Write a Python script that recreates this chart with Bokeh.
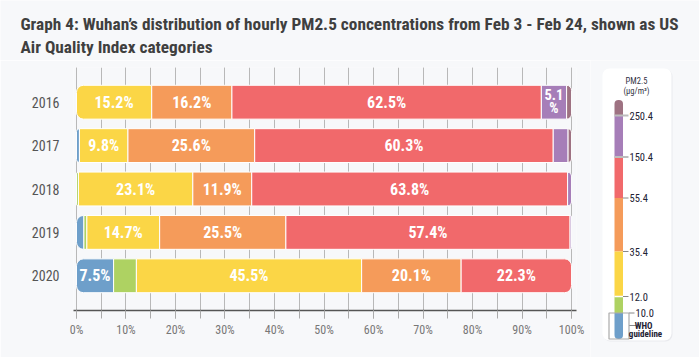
from bokeh.plotting import figure
from bokeh.models import ColumnDataSource, FactorRange, Range1d, SingleIntervalTicker
from bokeh.layouts import column, row
from bokeh.embed import file_html
from bokeh.resources import INLINE
from bokeh.core.properties import value

# ---------------- data ----------------
years = ["2016", "2017", "2018", "2019", "2020"]
categories = ["0-10 (WHO guideline)", "10-12", "12-35.4", "35.4-55.4",
              "55.4-150.4", "150.4-250.4", ">250.4"]
blue = [0.0, 0.6, 0.0, 1.5, 7.5]
green = [0.0, 0.0, 0.4, 0.6, 4.6]
yellow = [15.2, 9.8, 23.1, 14.7, 45.5]
orange = [16.2, 25.6, 11.9, 25.5, 20.1]
red = [62.5, 60.3, 63.8, 57.4, 22.3]
purple = [5.1, 3.0, 0.8, 0.3, 0.0]
brown = [1.0, 0.7, 0.0, 0.0, 0.0]
x_ticks = [0, 10, 20, 30, 40, 50, 60, 70, 80, 90, 100]
x_tick_labels = ["0%", "10%", "20%", "30%", "40%", "50%", "60%", "70%", "80%", "90%", "100%"]
legend_breaks = ["250.4", "150.4", "55.4", "35.4", "12.0", "10.0"]
title_lines = ["Graph 4: Wuhan\u2019s distribution of hourly PM2.5 concentrations from Feb 3 - Feb 24, shown as US",
               "Air Quality Index categories"]

# ---------------- style ----------------
colors = ["#6E9FCA", "#AED262", "#FBD646", "#F59B5A", "#F1696B", "#A67EB8", "#9E7282"]
BG = "#F7F8FA"
COND = "'Roboto Condensed', 'Liberation Sans Narrow', 'DejaVu Sans Condensed', Roboto"
series = [blue, green, yellow, orange, red, purple, brown]
TH = 60  # title strip height

# ---------------- title figure ----------------
tf = figure(width=699, height=TH, x_range=Range1d(0, 699), y_range=Range1d(0, TH),
            x_axis_type=None, y_axis_type=None, output_backend="svg", toolbar_location=None,
            min_border=0, background_fill_color=BG, border_fill_color=BG, outline_line_color=None)
tf.frame_align = False
tf.text(x=[20, 20], y=[TH - 23, TH - 46], text=title_lines, text_font=value(COND),
        text_font_style="bold", text_font_size="17.3px", text_color="#3f3f3f",
        text_baseline="alphabetic", text_align="left")

# ---------------- main chart ----------------
p = figure(width=590, height=357 - TH, x_range=Range1d(-0.6, 101.0),
           y_range=FactorRange(factors=years[::-1], range_padding=0.3, range_padding_units="absolute"),
           output_backend="svg", toolbar_location=None,
           min_border_left=73, min_border_right=14, min_border_top=67 - TH, min_border_bottom=47,
           background_fill_color=BG, border_fill_color=BG, outline_line_color=None)
p.frame_align = False

segs = {k: dict(y=[], left=[], right=[], color=[]) for k in ("first", "mid", "last")}
lab = dict(x=[], y=[], text=[])
lab2 = dict(x=[], y=[], text=[])
for i, yr in enumerate(years):
    vals = [s[i] for s in series]
    nz = [k for k, v in enumerate(vals) if v > 0]
    cum = 0.0
    for k, v in enumerate(vals):
        if v <= 0:
            continue
        left, right = cum, cum + v
        cum = right
        kind = "first" if k == nz[0] else ("last" if k == nz[-1] else "mid")
        d = segs[kind]
        d["y"].append(yr); d["left"].append(left); d["right"].append(right); d["color"].append(colors[k])
        if v >= 5:
            if v >= 7:
                lab["x"].append((left + right) / 2); lab["y"].append(yr); lab["text"].append(f"{v:.1f}%")
            else:
                lab2["x"].append((left + right) / 2); lab2["y"].append(yr); lab2["text"].append(f"{v:.1f}\n%")

R = 7
radii = {"first": (R, 0, 0, R), "mid": 0, "last": (0, R, R, 0)}
for kind, d in segs.items():
    p.hbar(y="y", left="left", right="right", height=0.78, fill_color="color",
           line_color="white", line_width=1, source=ColumnDataSource(d), border_radius=radii[kind])

p.text(x="x", y="y", text="text", source=ColumnDataSource(lab), text_font=value(COND),
       text_font_style="bold", text_font_size="16px", text_color="white",
       text_align="center", text_baseline="middle")
p.text(x="x", y="y", text="text", source=ColumnDataSource(lab2), text_font=value(COND),
       text_font_style="bold", text_font_size="14.5px", text_color="white",
       text_align="center", text_baseline="middle", text_line_height=0.78)

p.ygrid.grid_line_color = None
p.xgrid.grid_line_color = "#b8b8b8"
p.xgrid.minor_grid_line_color = "#b8b8b8"
p.xaxis.ticker = SingleIntervalTicker(interval=10, num_minor_ticks=2)
p.xaxis.major_label_overrides = {t: s for t, s in zip(x_ticks, x_tick_labels)}
p.xaxis.axis_line_color = "#555555"
p.xaxis.axis_line_width = 1.5
p.xaxis.major_tick_line_color = "#aaaaaa"
p.xaxis.minor_tick_line_color = "#aaaaaa"
p.xaxis.major_tick_in = 0
p.xaxis.major_tick_out = 8
p.xaxis.minor_tick_in = 0
p.xaxis.minor_tick_out = 8
p.xaxis.major_label_standoff = 4
p.xaxis.major_label_text_font = COND
p.xaxis.major_label_text_font_size = "12px"
p.xaxis.major_label_text_color = "#777777"

p.yaxis.axis_line_color = None
p.yaxis.major_tick_line_color = None
p.yaxis.minor_tick_line_color = None
p.yaxis.major_label_standoff = 8
p.yaxis.major_label_text_font = COND
p.yaxis.major_label_text_font_size = "14px"
p.yaxis.major_label_text_color = "#555555"

# ---------------- legend figure ----------------
leg = figure(width=109, height=357 - TH, x_range=Range1d(590, 699), y_range=Range1d(0, 357 - TH),
             x_axis_type=None, y_axis_type=None, output_backend="svg", toolbar_location=None,
             min_border=0, background_fill_color=BG, border_fill_color=BG, outline_line_color=None)
leg.frame_align = False


def G(g):
    return 357 - g


leg.quad(left=603, right=672, top=G(69), bottom=G(341), fill_color="#e9eaee", line_color=None,
         border_radius=7)
leg.quad(left=602, right=671, top=G(68), bottom=G(340), fill_color="white", line_color=None,
         border_radius=7)
leg.text(x=[636, 636], y=[G(80), G(90)], text=["PM2.5", "(\u03bcg/m\u00b3)"], text_font=value(COND),
         text_font_size="8.5px", text_color="#333344", text_align="center", text_baseline="middle")

edges = [99.5, 115, 156.5, 197.5, 251, 296, 312.5, 338.5]
band_colors = colors[::-1]
for i in range(7):
    rad = (4, 4, 0, 0) if i == 0 else ((0, 0, 4, 4) if i == 6 else 0)
    leg.quad(left=614, right=622.5, top=G(edges[i]), bottom=G(edges[i + 1]),
             fill_color=band_colors[i], line_color=None, border_radius=rad)

# separators / ticks
leg.segment(x0=[614, 614], x1=[628, 628], y0=[G(edges[1]), G(edges[2])], y1=[G(edges[1]), G(edges[2])],
            line_color="#bdbdbd", line_width=2)
leg.segment(x0=[614], x1=[622.5], y0=[G(edges[5])], y1=[G(edges[5])], line_color="white", line_width=1.5)
leg.segment(x0=[622.5, 622.5, 622.5, 628.5, 628.5], x1=[628, 628, 628, 634, 636],
            y0=[G(edges[3]), G(edges[4]), G(edges[5]), G(edges[6]), G(325)],
            y1=[G(edges[3]), G(edges[4]), G(edges[5]), G(edges[6]), G(325)],
            line_color="#888888", line_width=1)
leg.quad(left=608.5, right=628.5, top=G(312.5), bottom=G(338.5), fill_color=None,
         line_color="#aaaaaa", line_width=1.2)

lx = [629, 629, 629, 629, 629, 635]
ly = [G(edges[1]), G(edges[2]), G(edges[3]), G(edges[4]), G(edges[5]), G(edges[6])]
leg.text(x=lx, y=ly, text=legend_breaks, text_font=value(COND), text_font_size="10.5px",
         text_color="#222233", text_align="left", text_baseline="middle")
leg.text(x=[643, 645], y=[G(325), G(333.5)], text=["WHO", "guideline"], text_font=value(COND),
         text_font_style="bold", text_font_size="9px", text_color="#222233",
         text_align="center", text_baseline="middle")

layout = column(tf, row(p, leg, spacing=0), spacing=0)
open("out.html", "w").write(file_html(layout, INLINE))
